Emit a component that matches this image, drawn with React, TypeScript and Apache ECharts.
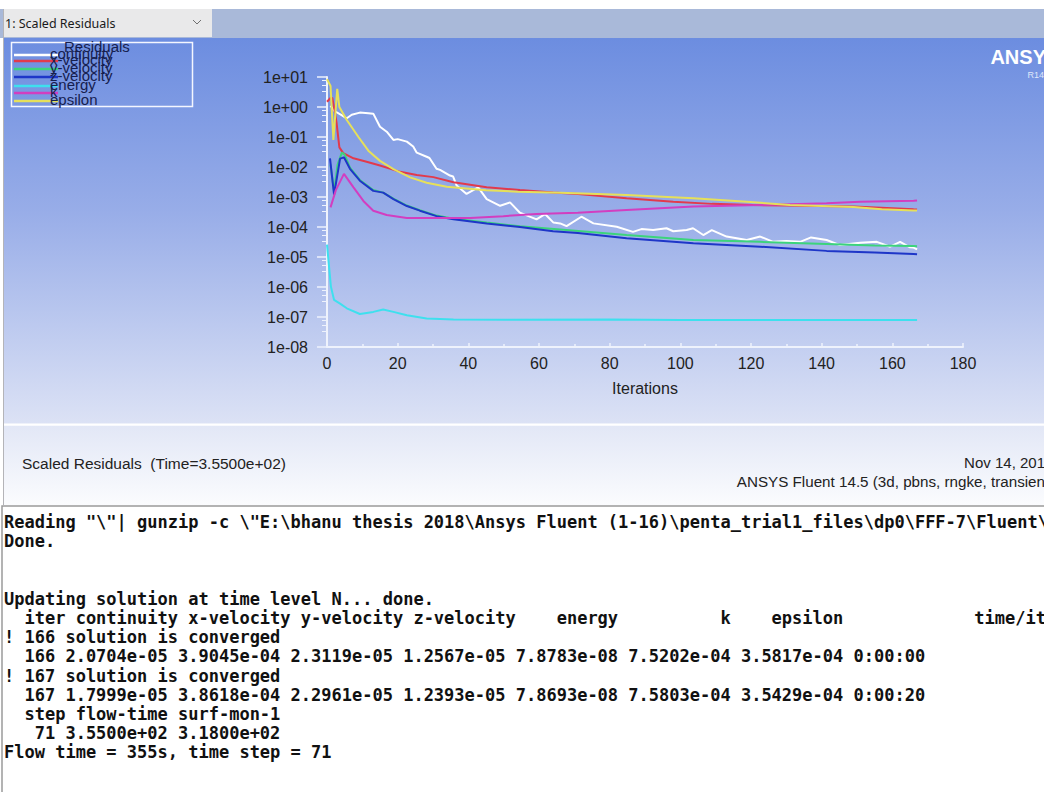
import React, { useEffect, useRef } from 'react';
import * as echarts from 'echarts';

// ---- data: [iteration, scaled residual] ----
const seriesNames = ['continuity', 'x-velocity', 'y-velocity', 'z-velocity', 'energy', 'k', 'epsilon'];

const continuity: [number, number][] = [
  [1, 1.1], [2, 0.75], [4, 0.55], [5.6, 0.42], [7, 0.55], [9.3, 0.65], [11.7, 0.62], [13.1, 0.6],
  [15, 0.22], [16.9, 0.15], [18.8, 0.08], [20, 0.085], [22.6, 0.07], [24.4, 0.048], [25.4, 0.03],
  [28.2, 0.022], [29, 0.02], [31, 0.0087], [32, 0.008], [34.8, 0.0052], [35.7, 0.0048], [36.7, 0.0024],
  [39.5, 0.00126], [42.8, 0.0021], [45.2, 0.00085], [49, 0.00051], [51.8, 0.00066], [54.6, 0.0003],
  [59.3, 0.00018], [61.7, 0.00027], [64.1, 0.00014], [66, 0.000132], [67.8, 0.000107], [72, 0.00022],
  [75.4, 0.000132], [82, 0.000102], [86.6, 0.000069], [89, 0.000085], [92.3, 0.000079], [96.1, 0.000091],
  [98, 0.000072], [101.8, 0.000079], [103.6, 0.000091], [106.5, 0.000054], [108.9, 0.000079],
  [113.1, 0.000048], [118.8, 0.000037], [122.6, 0.000048], [126.3, 0.000032], [130, 0.000034],
  [133.9, 0.000032], [137, 0.000045], [141.4, 0.000037], [145.2, 0.000025], [150.9, 0.00003],
  [155.6, 0.000032], [159.4, 0.000022], [162.2, 0.000032], [165, 0.000021], [166, 2.0704e-5], [167, 1.7999e-5],
];

const xVelocity: [number, number][] = [
  [0, 1.5], [1, 2.0], [1.5, 2.0], [2.3, 0.6], [2.7, 0.3], [3.5, 0.045], [4.6, 0.029], [7.5, 0.0195],
  [11.2, 0.015], [15, 0.0112], [20.7, 0.0069], [25.4, 0.0054], [30.1, 0.0046], [35.8, 0.0031],
  [45.2, 0.0021], [54.6, 0.0017], [64, 0.0014], [71, 0.00126], [84.8, 0.00091], [98, 0.00069],
  [109, 0.00059], [120.6, 0.00054], [130, 0.00052], [138.6, 0.0005], [149, 0.00048], [160, 0.00042],
  [166, 3.9045e-4], [167, 3.8618e-4],
];

const yVelocity: [number, number][] = [
  [1, 0.012], [2, 0.0015], [3, 0.012], [4.2, 0.03], [5, 0.026], [6.5, 0.0095], [9.3, 0.0037],
  [13.1, 0.0017], [15.9, 0.0014], [18.8, 0.00088], [22.6, 0.00052], [26.3, 0.00036], [31, 0.00024],
  [35.8, 0.00019], [45.2, 0.00014], [54.6, 0.000105], [66, 0.000083], [84.8, 0.000054],
  [103.7, 0.000037], [122.6, 0.000032], [141.4, 0.000027], [155, 0.000024], [166, 2.3119e-5], [167, 2.2961e-5],
];

const zVelocity: [number, number][] = [
  [0.85, 0.0195], [2, 0.0012], [3.7, 0.019], [4.8, 0.021], [6.5, 0.0087], [9.3, 0.0035], [13.1, 0.0016],
  [15.9, 0.0014], [18.8, 0.00085], [22.6, 0.0005], [26.3, 0.00035], [31, 0.00023], [35.8, 0.00018],
  [45.2, 0.00013], [54.6, 0.0001], [64, 0.000072], [71, 0.000063], [84.8, 0.000042], [103.7, 0.000029],
  [122.6, 0.000022], [141.4, 0.000016], [155, 0.000014], [166, 1.2567e-5], [167, 1.2393e-5],
];

const energy: [number, number][] = [
  [0, 2.6e-5], [1.1, 1.05e-6], [2, 3.7e-7], [3.7, 2.8e-7], [5.6, 1.95e-7], [9.3, 1.26e-7], [13.1, 1.48e-7],
  [15.9, 1.78e-7], [18.8, 1.48e-7], [22.6, 1.15e-7], [28.2, 8.9e-8], [35.8, 8.3e-8], [50, 8.1e-8],
  [80, 8.2e-8], [100, 8.0e-8], [130, 8.0e-8], [166, 7.8783e-8], [167, 7.8693e-8],
];

const kResidual: [number, number][] = [
  [1, 4.5e-4], [2.5, 0.0017], [4.8, 0.0059], [7.5, 0.0021], [10.3, 0.00074], [13.1, 0.00035],
  [16.9, 0.00025], [22.6, 0.0002], [31, 0.0002], [40.5, 0.0002], [49.9, 0.00023], [59.3, 0.00027],
  [66, 0.00029], [71, 0.0003], [84.8, 0.00037], [103.7, 0.00048], [122.6, 0.00054], [141.4, 0.00062],
  [150.9, 0.00069], [166, 7.5202e-4], [167, 7.5803e-4],
];

const epsilon: [number, number][] = [
  [0, 8.5], [1, 5], [1.8, 0.08], [2.9, 4.0], [3.5, 1.0], [5.6, 0.37], [8.9, 0.1], [11.7, 0.035],
  [15, 0.016], [18.8, 0.0085], [23.5, 0.0045], [28.2, 0.003], [33.9, 0.0022], [45, 0.00168],
  [54, 0.0015], [66, 0.00138], [84.8, 0.00117], [103.7, 0.00091], [118.8, 0.00069], [131, 0.00054],
  [149, 0.00046], [157, 0.00039], [166, 3.5817e-4], [167, 3.5429e-4],
];

const seriesData = [continuity, xVelocity, yVelocity, zVelocity, energy, kResidual, epsilon];
const seriesColors = ['#ffffff', '#e23a4c', '#3cd47c', '#1e36c8', '#3ee0ee', '#d23ec0', '#e6e05a'];

const xAxisMin = 0;
const xAxisMax = 180;
const xAxisInterval = 20;
const yAxisMin = 1e-8;
const yAxisMax = 10;

const consoleLines = [
  'Reading "\\"| gunzip -c \\"E:\\bhanu thesis 2018\\Ansys Fluent (1-16)\\penta_trial1_files\\dp0\\FFF-7\\Fluent\\',
  'Done.',
  '',
  '',
  'Updating solution at time level N... done.',
  '  iter continuity x-velocity y-velocity z-velocity    energy          k    epsilon',
  '! 166 solution is converged',
  '  166 2.0704e-05 3.9045e-04 2.3119e-05 1.2567e-05 7.8783e-08 7.5202e-04 3.5817e-04 0:00:00',
  '! 167 solution is converged',
  '  167 1.7999e-05 3.8618e-04 2.2961e-05 1.2393e-05 7.8693e-08 7.5803e-04 3.5429e-04 0:00:20',
  '  step flow-time surf-mon-1',
  '   71 3.5500e+02 3.1800e+02',
  'Flow time = 355s, time step = 71',
];

const uiFont = '"Liberation Sans", Arial, sans-serif';
const monoFont = '"DejaVu Sans Mono", "Liberation Mono", monospace';

function expLabel(v: number): string {
  const e = Math.round(Math.log10(v));
  return '1e' + (e < 0 ? '-' : '+') + String(Math.abs(e)).padStart(2, '0');
}

export default function App() {
  const ref = useRef<HTMLDivElement>(null);

  useEffect(() => {
    if (!ref.current) return;
    const chart = echarts.init(ref.current, undefined, { renderer: 'svg' });

    const legendYs = [55, 61, 69, 77, 86, 93, 101];
    const legendEls: any[] = [
      {
        type: 'rect', z: 50, shape: { x: 11.5, y: 42.5, width: 181, height: 64 },
        style: { fill: 'rgba(0,0,0,0)', stroke: '#f4f6ff', lineWidth: 1.5 },
      },
      {
        type: 'text', z: 52, x: 64, y: 46,
        style: { text: 'Residuals', fill: '#16204e', fontSize: 15, fontFamily: uiFont, verticalAlign: 'middle' },
      },
    ];
    seriesNames.forEach((name, i) => {
      legendEls.push({
        type: 'line', z: 51,
        shape: { x1: 14, y1: legendYs[i], x2: 58, y2: legendYs[i] },
        style: { stroke: seriesColors[i], lineWidth: 2.5 },
      });
      legendEls.push({
        type: 'text', z: 52, x: 50, y: legendYs[i] - 2,
        style: { text: name, fill: '#16204e', fontSize: 15, fontFamily: uiFont, verticalAlign: 'middle' },
      });
    });

    const consoleEls = consoleLines.map((line, i) => ({
      type: 'text', z: 60, x: 4, y: 522 + i * 19.2,
      style: {
        text: line, fill: '#111111', fontSize: 17, fontWeight: 'bold', fontFamily: monoFont,
        verticalAlign: 'middle', align: 'left',
      },
    }));

    const graphics: any[] = [
      // header strip
      { type: 'rect', z: -100, shape: { x: 0, y: 9, width: 1044, height: 29 }, style: { fill: '#a9b9d9' } },
      { type: 'rect', z: -99, shape: { x: 3, y: 9, width: 209, height: 28 }, style: { fill: '#e9e9ea' } },
      {
        type: 'text', z: 20, x: 5, y: 23,
        style: { text: '1: Scaled Residuals', fill: '#1a1a1a', fontSize: 12.5, fontFamily: '"Noto Sans", sans-serif', verticalAlign: 'middle' },
      },
      {
        type: 'polyline', z: 20, shape: { points: [[193, 20], [197, 24], [201, 20]] },
        style: { stroke: '#707070', lineWidth: 1, fill: 'none' },
      },
      // blue plot panel
      {
        type: 'rect', z: -100, shape: { x: 3, y: 38, width: 1041, height: 386 },
        style: {
          fill: new echarts.graphic.LinearGradient(0, 0, 0, 1, [
            { offset: 0, color: '#6c8de0' },
            { offset: 0.45, color: '#98ade8' },
            { offset: 1, color: '#dce2f5' },
          ]),
        },
      },
      { type: 'line', z: -90, shape: { x1: 3, y1: 424.5, x2: 1044, y2: 424.5 }, style: { stroke: '#ffffff', lineWidth: 2 } },
      // lower info panel
      {
        type: 'rect', z: -100, shape: { x: 3, y: 425.5, width: 1041, height: 80 },
        style: {
          fill: new echarts.graphic.LinearGradient(0, 0, 0, 1, [
            { offset: 0, color: '#e2e7f6' },
            { offset: 1, color: '#fbfcfe' },
          ]),
        },
      },
      { type: 'line', z: -90, shape: { x1: 3.5, y1: 9, x2: 3.5, y2: 506 }, style: { stroke: '#b4b4b8', lineWidth: 1 } },
      // console box
      { type: 'rect', z: -100, shape: { x: 2, y: 506, width: 1050, height: 300 }, style: { fill: '#ffffff', stroke: '#9a9a9a', lineWidth: 1.5 } },
      // ANSYS logo
      {
        type: 'text', z: 20, x: 1046, y: 57,
        style: { text: 'ANSY', fill: '#ffffff', fontSize: 20, fontWeight: 'bold', fontFamily: uiFont, align: 'right', verticalAlign: 'middle' },
      },
      {
        type: 'text', z: 20, x: 1044, y: 75,
        style: { text: 'R14', fill: '#dfe6fa', fontSize: 9, fontFamily: uiFont, align: 'right', verticalAlign: 'middle' },
      },
      // info texts
      {
        type: 'text', z: 20, x: 22, y: 463,
        style: { text: 'Scaled Residuals  (Time=3.5500e+02)', fill: '#222222', fontSize: 15.5, fontFamily: uiFont, verticalAlign: 'middle' },
      },
      {
        type: 'text', z: 20, x: 1045, y: 462,
        style: { text: 'Nov 14, 201', fill: '#222222', fontSize: 15, fontFamily: uiFont, align: 'right', verticalAlign: 'middle' },
      },
      {
        type: 'text', z: 20, x: 1045, y: 481,
        style: { text: 'ANSYS Fluent 14.5 (3d, pbns, rngke, transien', fill: '#222222', fontSize: 15.2, fontFamily: uiFont, align: 'right', verticalAlign: 'middle' },
      },
      {
        type: 'text', z: 60, x: 1046, y: 522 + 5 * 19.2,
        style: { text: 'time/it', fill: '#111111', fontSize: 17, fontWeight: 'bold', fontFamily: monoFont, align: 'right', verticalAlign: 'middle' },
      },
      ...legendEls,
      ...consoleEls,
    ];

    const option: any = {
      animation: false,
      backgroundColor: '#ffffff',
      grid: { left: 327, right: 81, top: 77, bottom: 445, containLabel: false },
      xAxis: {
        type: 'value',
        min: xAxisMin,
        max: xAxisMax,
        interval: xAxisInterval,
        name: 'Iterations',
        nameLocation: 'middle',
        nameGap: 33,
        nameTextStyle: { color: '#222222', fontSize: 16, fontFamily: uiFont },
        axisLine: { show: true, onZero: false, lineStyle: { color: '#eef2fc', width: 2 } },
        axisTick: { show: true, inside: true, length: 4, lineStyle: { color: '#eef2fc', width: 1.5 } },
        minorTick: { show: true, splitNumber: 2, length: 3, lineStyle: { color: '#eef2fc', width: 1.5 } },
        splitLine: { show: false },
        axisLabel: { color: '#222222', fontSize: 16, fontFamily: uiFont, margin: 8, showMaxLabel: true, showMinLabel: true },
      },
      yAxis: {
        type: 'log',
        logBase: 10,
        min: yAxisMin,
        max: yAxisMax,
        splitNumber: 9,
        axisLine: { show: true, lineStyle: { color: '#eef2fc', width: 2 } },
        axisTick: { show: true, inside: false, length: 10, lineStyle: { color: '#eef2fc', width: 1.5 } },
        minorTick: { show: true, splitNumber: 4, length: 5, lineStyle: { color: '#eef2fc', width: 1 } },
        splitLine: { show: false },
        axisLabel: {
          color: '#222222', fontSize: 16, fontFamily: uiFont, margin: 19,
          showMaxLabel: true, showMinLabel: true, formatter: (v: number) => expLabel(v),
        },
      },
      graphic: graphics,
      series: seriesNames.map((name, i) => ({
        name,
        type: 'line',
        data: seriesData[i],
        showSymbol: false,
        symbol: 'none',
        clip: true,
        lineStyle: { color: seriesColors[i], width: 2 },
        itemStyle: { color: seriesColors[i] },
        z: 3,
      })),
    };

    chart.setOption(option);
    return () => chart.dispose();
  }, []);

  return (
    <div
      ref={ref}
      style={{ position: 'absolute', left: 0, top: 0, width: 1044, height: 792 }}
    />
  );
}
